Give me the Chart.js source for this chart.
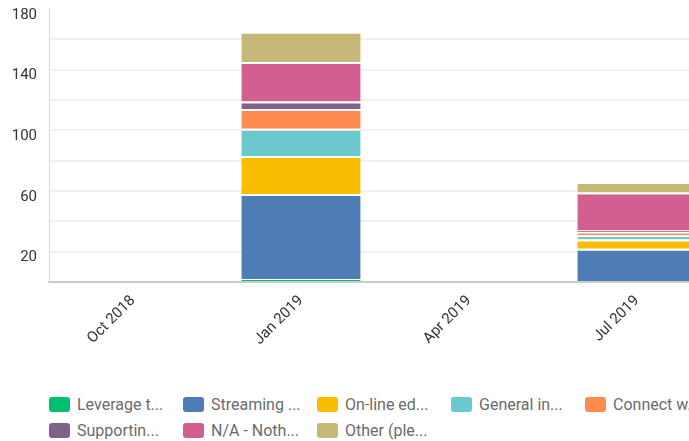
<!DOCTYPE html>
<html>
<head>
<meta charset="utf-8">
<script src="https://cdn.jsdelivr.net/npm/chart.js@4"></script>
<style>
  html, body { margin: 0; padding: 0; background: #fff; overflow: hidden; }
  #wrap { position: relative; width: 689px; height: 441px; overflow: hidden; }
  #chart { position: absolute; left: 0; top: 0; }
  #legend {
    position: absolute; left: 49px; top: 391px; width: 800px;
    display: grid; grid-template-columns: repeat(5, 134px); grid-auto-rows: 26px;
    font-family: Roboto, sans-serif; font-size: 16px; color: #6b6b6b;
  }
  .item { display: flex; align-items: center; white-space: nowrap; }
  .swatch { width: 21px; height: 15px; border-radius: 3px; margin-right: 7px; flex: none; }
</style>
</head>
<body>
<div id="wrap">
  <canvas id="chart" width="721" height="375"></canvas>
  <div id="legend"></div>
</div>
<script>
const quarters = ["Oct 2018", "Jan 2019", "Apr 2019", "Jul 2019"];

const answerLabels = [
  "Leverage t...", "Streaming ...", "On-line ed...", "General in...",
  "Connect w...", "Supportin...", "N/A - Noth...", "Other (ple..."
];
const answerColors = [
  "#00bf6f", "#507cb6", "#f9be00", "#6bc8cd",
  "#ff8b4f", "#7f628b", "#d25f90", "#c7b879"
];

// responses per quarter, one array per answer
const leverage   = [0, 2, 0, 0];
const streaming  = [0, 56, 0, 22];
const onlineEd   = [0, 25, 0, 6];
const generalIn  = [0, 18, 0, 3];
const connectW   = [0, 13, 0, 2];
const supporting = [0, 5, 0, 1];
const nothing    = [0, 26, 0, 25];
const other      = [0, 20, 0, 7];

const seriesValues = [leverage, streaming, onlineEd, generalIn, connectW, supporting, nothing, other];

const yMax = 180;
const yStep = 20;

const ctx = document.getElementById("chart").getContext("2d");

const chart = new Chart(ctx, {
  type: "bar",
  data: {
    labels: quarters,
    datasets: seriesValues.map((values, i) => ({
      label: answerLabels[i],
      data: values,
      backgroundColor: answerColors[i],
      borderColor: "#ffffff",
      borderWidth: { top: 2, left: 0, right: 0, bottom: 0 },
      borderSkipped: "start",
      categoryPercentage: 1,
      barPercentage: 0.71
    }))
  },
  options: {
    responsive: false,
    animation: false,
    layout: { padding: 0 },
    plugins: {
      legend: { display: false },
      tooltip: { enabled: false }
    },
    scales: {
      x: {
        stacked: true,
        grid: { display: false },
        border: { display: true, color: "#cccccc", width: 2 },
        ticks: {
          minRotation: 45,
          maxRotation: 45,
          padding: 2,
          color: "#333333",
          font: { family: "Roboto", size: 15 }
        },
        afterFit: scale => { scale.height = 93; }
      },
      y: {
        stacked: true,
        min: 0,
        max: yMax,
        grid: {
          drawTicks: false,
          lineWidth: 2,
          color: c => (c.tick.value === 0 || c.tick.value === yMax) ? "rgba(0,0,0,0)" : "#f1f1f1"
        },
        border: { display: true, color: "#d6d6d6", width: 1 },
        ticks: {
          stepSize: yStep,
          padding: 12,
          labelOffset: 6,
          color: "#333333",
          font: { family: "Roboto", size: 15 },
          callback: v => (v > 0 && (v - 20) % 40 === 0) ? v : ""
        },
        afterFit: scale => {
          scale.width = 49;
          // keep the plot close to the top edge
          scale.paddingTop = 9;
        }
      }
    }
  }
});

// html legend below the canvas
const legendBox = document.getElementById("legend");
chart.data.datasets.forEach(ds => {
  const item = document.createElement("div");
  item.className = "item";
  const swatch = document.createElement("span");
  swatch.className = "swatch";
  swatch.style.background = ds.backgroundColor;
  const text = document.createElement("span");
  text.textContent = ds.label;
  item.appendChild(swatch);
  item.appendChild(text);
  legendBox.appendChild(item);
});
</script>
</body>
</html>
